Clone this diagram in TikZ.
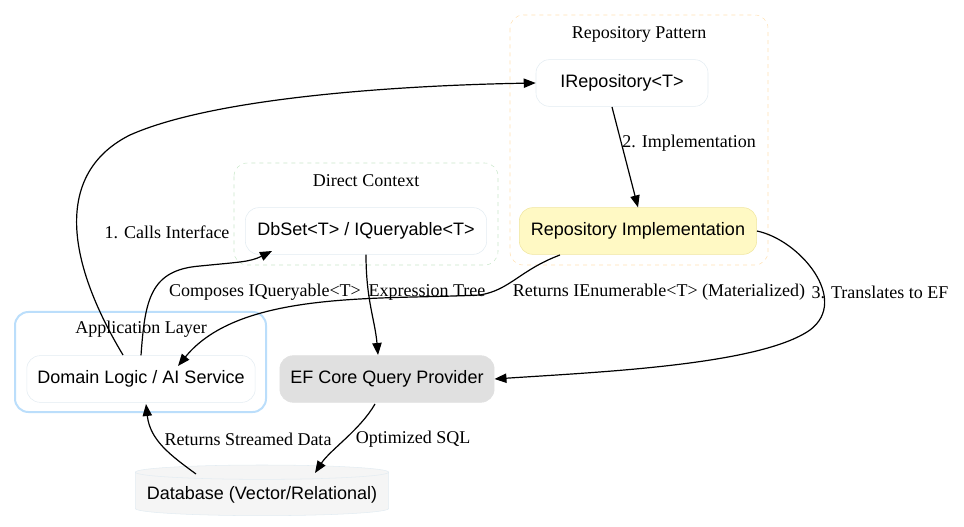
\documentclass[tikz,border=0pt]{standalone}
\usepackage{fontspec}
\setmainfont{Liberation Serif}
\newfontfamily\nodefont{Liberation Sans}
\usetikzlibrary{arrows.meta,shapes.geometric}
\definecolor{boxline}{HTML}{E3ECF2}
\definecolor{repoline}{HTML}{FFE0B2}
\definecolor{ctxline}{HTML}{C8E6C9}
\definecolor{appline}{HTML}{BBDEFB}
\definecolor{implfill}{HTML}{FFF9C4}
\definecolor{implline}{HTML}{F0E6A0}
\definecolor{effill}{HTML}{E0E0E0}
\definecolor{dbfill}{HTML}{F5F5F5}
\tikzset{
  box/.style={draw=boxline, fill=white, rounded corners=10pt, minimum height=35pt,
    font=\nodefont\fontsize{13.5}{16}\selectfont, inner xsep=8pt},
  cluster/.style={rounded corners=10pt},
  lbl/.style={font=\fontsize{13.5}{15}\selectfont},
  edge/.style={-{Triangle[length=9pt,width=7pt]}, line width=0.9pt}
}
\begin{document}
\begin{tikzpicture}[x=0.75pt,y=-0.75pt]
    \useasboundingbox (0,0) rectangle (964,527);
    % clusters
    \draw[cluster, repoline, dashed] (510,15) rectangle (768,265);
    \node[lbl] (repotitle) at (639,34) {Repository Pattern};
    \draw[cluster, ctxline, dashed] (234,163) rectangle (498,265);
    \node[lbl] (ctxtitle) at (366,181) {Direct Context};
    \draw[cluster, appline, line width=1.5pt] (15,312) rectangle (266,412);
    \node[lbl] (apptitle) at (141,329) {Application Layer};
    % nodes
    \node[box, minimum width=129pt] (irepo) at (622,83) {IRepository<T>};
    \node[box, minimum width=178pt, fill=implfill, draw=implline] (impl) at (638,231) {Repository Implementation};
    \node[box, minimum width=181pt] (dbset) at (366,231) {DbSet<T> / IQueryable<T>};
    \node[box, minimum width=170pt] (domain) at (141,379) {Domain Logic / AI Service};
    \node[box, minimum width=160pt, fill=effill, draw=effill] (ef) at (387,379) {EF Core Query Provider};
    \node[cylinder, shape border rotate=90, aspect=0.06, draw=boxline, fill=dbfill,
      minimum width=190pt, minimum height=38pt, font=\nodefont\fontsize{13.5}{16}\selectfont]
      (db) at (262,495) {Database (Vector/Relational)};
    % edges
    \draw[edge] (123,355) .. controls (60,250) and (60,170) .. (130,135)
      .. controls (220,95) and (420,85) .. (irepo.west);
    \node[lbl] (l1) at (167,232) {1. Calls Interface};
    \draw[edge] (612,107) -- (impl.north);
    \node[lbl] (l2) at (689,143) {2. Implementation};
    \draw[edge] (impl.east) .. controls (800,240) and (850,300) .. (810,330)
      .. controls (760,365) and (600,372) .. (ef.east);
    \node[lbl] (l3) at (880,292) {3. Translates to EF};
    \draw[edge] (560,255) .. controls (520,270) and (510,290) .. (480,295)
      .. controls (380,300) and (240,290) .. (178,366);
    \node[lbl] (l4) at (659,292) {Returns IEnumerable<T> (Materialized)};
    \draw[edge] (domain.north) .. controls (145,300) and (150,270) .. (200,266)
      .. controls (240,262) and (250,262) .. (272,251);
    \node[lbl] (l5) at (265,292) {Composes IQueryable<T>};
    \draw[edge] (dbset.south) .. controls (366,300) and (375,320) .. (378,355);
    \node[lbl] (l6) at (427,292) {Expression Tree};
    \draw[edge] (375,404) .. controls (360,430) and (330,450) .. (315,473);
    \node[lbl] (l7) at (413,439) {Optimized SQL};
    \draw[edge] (196,474) .. controls (170,455) and (150,440) .. (146,404);
    \node[lbl] (l8) at (248,439) {Returns Streamed Data};
\end{tikzpicture}
\end{document}
